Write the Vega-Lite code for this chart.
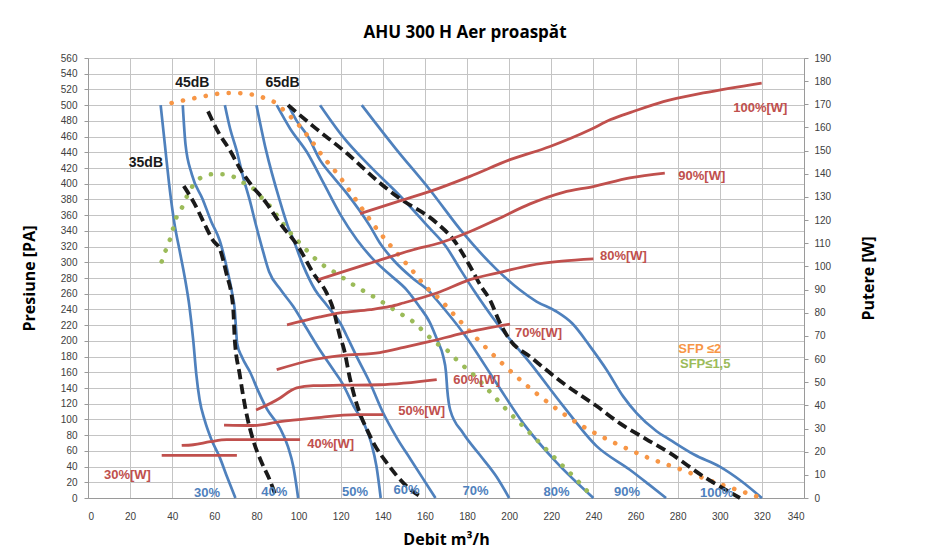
{
  "$schema": "https://vega.github.io/schema/vega-lite/v6.json",
  "width": 716,
  "height": 440,
  "autosize": {"type": "none"},
  "padding": {"left": 88, "top": 58, "right": 125, "bottom": 59},
  "background": "white",
  "title": {"text": "AHU 300 H Aer proaspăt", "font": "Open Sans", "fontSize": 17, "fontWeight": "bold", "color": "#000000", "dx": 19, "offset": 11, "anchor": "middle"},
  "config": {
    "view": {"stroke": null},
    "axis": {"gridColor": "#c4c4c4", "gridWidth": 1, "domainColor": "#9a9a9a", "tickColor": "#9a9a9a", "labelColor": "#404040", "labelFont": "Liberation Sans", "labelFontSize": 10, "titleFont": "Open Sans", "titleFontWeight": "bold", "titleFontSize": 16, "titleColor": "#000000"}
  },
  "datasets": {
    "fan": [
      {"s":"30%","x":34.5,"P":500},{"s":"30%","x":36.5,"P":450},{"s":"30%","x":38.5,"P":400},{"s":"30%","x":41,"P":350},{"s":"30%","x":43.5,"P":315},{"s":"30%","x":46,"P":280},{"s":"30%","x":48.2,"P":243},{"s":"30%","x":50,"P":200},{"s":"30%","x":51.4,"P":158},{"s":"30%","x":53,"P":125},{"s":"30%","x":55.4,"P":99},{"s":"30%","x":58.5,"P":75},{"s":"30%","x":62.5,"P":52},{"s":"30%","x":66.3,"P":25},{"s":"30%","x":70,"P":0},
      {"s":"40%","x":45,"P":500},{"s":"40%","x":46.3,"P":450},{"s":"40%","x":49.3,"P":412},{"s":"40%","x":54.5,"P":380},{"s":"40%","x":58.5,"P":352},{"s":"40%","x":62.5,"P":328},{"s":"40%","x":66,"P":292},{"s":"40%","x":68.5,"P":260},{"s":"40%","x":69.7,"P":239},{"s":"40%","x":70.3,"P":215},{"s":"40%","x":70.8,"P":197},{"s":"40%","x":73,"P":180},{"s":"40%","x":77,"P":160},{"s":"40%","x":81,"P":135},{"s":"40%","x":85,"P":113},{"s":"40%","x":91,"P":90},{"s":"40%","x":95,"P":65},{"s":"40%","x":97.5,"P":40},{"s":"40%","x":99.8,"P":0},
      {"s":"50%","x":65,"P":500},{"s":"50%","x":67.5,"P":470},{"s":"50%","x":70.5,"P":443},{"s":"50%","x":73.5,"P":410},{"s":"50%","x":76.8,"P":379},{"s":"50%","x":79.5,"P":350},{"s":"50%","x":82.5,"P":320},{"s":"50%","x":86,"P":288},{"s":"50%","x":91.5,"P":265},{"s":"50%","x":97.4,"P":244},{"s":"50%","x":104,"P":215},{"s":"50%","x":110.2,"P":188},{"s":"50%","x":116,"P":165},{"s":"50%","x":121,"P":145},{"s":"50%","x":126.5,"P":115},{"s":"50%","x":131,"P":95},{"s":"50%","x":134.5,"P":70},{"s":"50%","x":137,"P":40},{"s":"50%","x":139,"P":0},
      {"s":"60%","x":80,"P":500},{"s":"60%","x":84.5,"P":443},{"s":"60%","x":91,"P":379},{"s":"60%","x":95,"P":345},{"s":"60%","x":97.5,"P":329},{"s":"60%","x":102,"P":297},{"s":"60%","x":107.8,"P":265},{"s":"60%","x":113.5,"P":245},{"s":"60%","x":119.7,"P":223},{"s":"60%","x":124,"P":200},{"s":"60%","x":127.6,"P":180},{"s":"60%","x":134,"P":146},{"s":"60%","x":139.5,"P":112},{"s":"60%","x":147,"P":75},{"s":"60%","x":153,"P":50},{"s":"60%","x":159,"P":25},{"s":"60%","x":165,"P":0},
      {"s":"70%","x":89.6,"P":500},{"s":"70%","x":96,"P":470},{"s":"70%","x":104,"P":440},{"s":"70%","x":112,"P":400},{"s":"70%","x":120,"P":360},{"s":"70%","x":127.6,"P":329},{"s":"70%","x":135,"P":305},{"s":"70%","x":143,"P":285},{"s":"70%","x":151.3,"P":265},{"s":"70%","x":157,"P":245},{"s":"70%","x":162.4,"P":223},{"s":"70%","x":166,"P":200},{"s":"70%","x":168.7,"P":180},{"s":"70%","x":170,"P":160},{"s":"70%","x":170.6,"P":138},{"s":"70%","x":172,"P":112},{"s":"70%","x":178,"P":83},{"s":"70%","x":186,"P":55},{"s":"70%","x":194,"P":27},{"s":"70%","x":200,"P":0},
      {"s":"80%","x":95.1,"P":500},{"s":"80%","x":99.1,"P":480},{"s":"80%","x":104.5,"P":460},{"s":"80%","x":110.2,"P":430},{"s":"80%","x":116,"P":410},{"s":"80%","x":122.8,"P":388},{"s":"80%","x":133.9,"P":346},{"s":"80%","x":138.6,"P":324.5},{"s":"80%","x":146,"P":300},{"s":"80%","x":154,"P":280},{"s":"80%","x":162.4,"P":262},{"s":"80%","x":165.6,"P":252},{"s":"80%","x":178.2,"P":210},{"s":"80%","x":194,"P":146},{"s":"80%","x":206.7,"P":95},{"s":"80%","x":222.6,"P":45},{"s":"80%","x":240,"P":0},
      {"s":"90%","x":110.2,"P":500},{"s":"90%","x":121,"P":460},{"s":"90%","x":134,"P":422},{"s":"90%","x":148,"P":385},{"s":"90%","x":162,"P":344},{"s":"90%","x":170,"P":320},{"s":"90%","x":177,"P":290},{"s":"90%","x":183,"P":265},{"s":"90%","x":194,"P":223},{"s":"90%","x":209.9,"P":172},{"s":"90%","x":225.7,"P":117},{"s":"90%","x":241.5,"P":66},{"s":"90%","x":257.3,"P":36},{"s":"90%","x":266,"P":18},{"s":"90%","x":274.5,"P":0},
      {"s":"100%","x":130,"P":500},{"s":"100%","x":146,"P":445},{"s":"100%","x":162.4,"P":392},{"s":"100%","x":178.2,"P":337},{"s":"100%","x":194,"P":291},{"s":"100%","x":205,"P":265},{"s":"100%","x":213,"P":250},{"s":"100%","x":222,"P":238},{"s":"100%","x":230,"P":222},{"s":"100%","x":238.4,"P":193},{"s":"100%","x":246.3,"P":163},{"s":"100%","x":254.2,"P":129},{"s":"100%","x":260.5,"P":108},{"s":"100%","x":270,"P":85},{"s":"100%","x":276.4,"P":74},{"s":"100%","x":288,"P":55},{"s":"100%","x":300,"P":40},{"s":"100%","x":310,"P":22},{"s":"100%","x":320,"P":0}
    ],
    "db": [
      {"s":"35dB","x":45.5,"P":397},{"s":"35dB","x":50.5,"P":375},{"s":"35dB","x":56,"P":345},{"s":"35dB","x":59.3,"P":328},{"s":"35dB","x":62.7,"P":316},{"s":"35dB","x":65.7,"P":286},{"s":"35dB","x":68.9,"P":243},{"s":"35dB","x":69.7,"P":201},{"s":"35dB","x":72,"P":158},{"s":"35dB","x":75.2,"P":108},{"s":"35dB","x":78.4,"P":74},{"s":"35dB","x":82,"P":48},{"s":"35dB","x":86.3,"P":23},{"s":"35dB","x":89.5,"P":0},
      {"s":"45dB","x":57,"P":492},{"s":"45dB","x":62,"P":465},{"s":"45dB","x":67.3,"P":443},{"s":"45dB","x":72,"P":420},{"s":"45dB","x":76.8,"P":401},{"s":"45dB","x":84.8,"P":375},{"s":"45dB","x":91.1,"P":350},{"s":"45dB","x":99.8,"P":320},{"s":"45dB","x":107,"P":286},{"s":"45dB","x":113.3,"P":261},{"s":"45dB","x":116.5,"P":240},{"s":"45dB","x":119.7,"P":205},{"s":"45dB","x":121.5,"P":190},{"s":"45dB","x":124.4,"P":152},{"s":"45dB","x":127,"P":125},{"s":"45dB","x":129.5,"P":105},{"s":"45dB","x":132.5,"P":87},{"s":"45dB","x":136,"P":68},{"s":"45dB","x":141.8,"P":45},{"s":"45dB","x":151.3,"P":15},{"s":"45dB","x":159,"P":0},
      {"s":"65dB","x":95,"P":500},{"s":"65dB","x":107,"P":473},{"s":"65dB","x":122.8,"P":439},{"s":"65dB","x":138.6,"P":401},{"s":"65dB","x":146.6,"P":384},{"s":"65dB","x":165.6,"P":350},{"s":"65dB","x":173.5,"P":329},{"s":"65dB","x":181.4,"P":295},{"s":"65dB","x":186.5,"P":270},{"s":"65dB","x":190.9,"P":252},{"s":"65dB","x":195.6,"P":223},{"s":"65dB","x":200.4,"P":201},{"s":"65dB","x":209.9,"P":180},{"s":"65dB","x":225.7,"P":146},{"s":"65dB","x":241.5,"P":117},{"s":"65dB","x":252.6,"P":95},{"s":"65dB","x":265,"P":75},{"s":"65dB","x":276.4,"P":57},{"s":"65dB","x":292.2,"P":27.5},{"s":"65dB","x":309.6,"P":0}
    ],
    "sfp": [
      {"s":"SFP2","x":39.7,"P":502.7},{"s":"SFP2","x":45.3,"P":506},{"s":"SFP2","x":50.8,"P":509},{"s":"SFP2","x":56.4,"P":512},{"s":"SFP2","x":61.9,"P":514.6},{"s":"SFP2","x":67.4,"P":515.5},{"s":"SFP2","x":73.5,"P":515},{"s":"SFP2","x":78.8,"P":513},{"s":"SFP2","x":84.8,"P":508},{"s":"SFP2","x":89.6,"P":502},{"s":"SFP2","x":93.5,"P":492},{"s":"SFP2","x":100,"P":475},{"s":"SFP2","x":106,"P":455},{"s":"SFP2","x":112,"P":433},{"s":"SFP2","x":118.9,"P":411},{"s":"SFP2","x":125,"P":388},{"s":"SFP2","x":131,"P":365},{"s":"SFP2","x":137,"P":343},{"s":"SFP2","x":142.6,"P":324.5},{"s":"SFP2","x":146.6,"P":312},{"s":"SFP2","x":154.5,"P":288},{"s":"SFP2","x":160,"P":270},{"s":"SFP2","x":166.3,"P":255},{"s":"SFP2","x":176,"P":227},{"s":"SFP2","x":186.1,"P":199},{"s":"SFP2","x":196,"P":173},{"s":"SFP2","x":206.7,"P":147},{"s":"SFP2","x":220.2,"P":118},{"s":"SFP2","x":234.4,"P":92},{"s":"SFP2","x":249.4,"P":71},{"s":"SFP2","x":265.3,"P":52},{"s":"SFP2","x":281.9,"P":36},{"s":"SFP2","x":297.7,"P":20},{"s":"SFP2","x":314.3,"P":5},{"s":"SFP2","x":320,"P":0},
      {"s":"SFP15","x":35,"P":301},{"s":"SFP15","x":37,"P":316},{"s":"SFP15","x":38.9,"P":329},{"s":"SFP15","x":42.1,"P":358},{"s":"SFP15","x":45.3,"P":373},{"s":"SFP15","x":47.6,"P":388},{"s":"SFP15","x":50.5,"P":400},{"s":"SFP15","x":53.2,"P":407},{"s":"SFP15","x":58.7,"P":412},{"s":"SFP15","x":64.2,"P":412},{"s":"SFP15","x":69.8,"P":408},{"s":"SFP15","x":74.5,"P":400},{"s":"SFP15","x":79.3,"P":392},{"s":"SFP15","x":83.2,"P":380},{"s":"SFP15","x":87.2,"P":369},{"s":"SFP15","x":90.4,"P":357},{"s":"SFP15","x":93.5,"P":346},{"s":"SFP15","x":97.5,"P":333},{"s":"SFP15","x":101.5,"P":322},{"s":"SFP15","x":105.4,"P":311},{"s":"SFP15","x":109.8,"P":300},{"s":"SFP15","x":117.3,"P":287},{"s":"SFP15","x":126.8,"P":270},{"s":"SFP15","x":137,"P":254},{"s":"SFP15","x":146.6,"P":237.5},{"s":"SFP15","x":156.1,"P":220.6},{"s":"SFP15","x":160,"P":210},{"s":"SFP15","x":165.6,"P":197},{"s":"SFP15","x":171.1,"P":186.6},{"s":"SFP15","x":175,"P":176},{"s":"SFP15","x":183.8,"P":155},{"s":"SFP15","x":191.7,"P":132.7},{"s":"SFP15","x":199.6,"P":110},{"s":"SFP15","x":207.5,"P":89},{"s":"SFP15","x":215.4,"P":67.8},{"s":"SFP15","x":223.3,"P":46.6},{"s":"SFP15","x":232,"P":23.3},{"s":"SFP15","x":240,"P":0}
    ],
    "pw": [
      {"s":"30","x":35,"W":18.4},{"s":"30","x":70.7,"W":18.4},
      {"s":"40","x":44.5,"W":22.7},{"s":"40","x":50,"W":23},{"s":"40","x":58,"W":24.3},{"s":"40","x":65.9,"W":25.2},{"s":"40","x":78.5,"W":25.2},{"s":"40","x":100.7,"W":25.2},
      {"s":"50","x":64.6,"W":31.5},{"s":"50","x":78.5,"W":31.3},{"s":"50","x":91.2,"W":33},{"s":"50","x":107,"W":34.5},{"s":"50","x":127.6,"W":36},{"s":"50","x":140.2,"W":36},
      {"s":"60","x":79.8,"W":38},{"s":"60","x":91.2,"W":43.2},{"s":"60","x":96,"W":46.2},{"s":"60","x":99.1,"W":47.6},{"s":"60","x":107,"W":48.5},{"s":"60","x":120,"W":48.7},{"s":"60","x":138.6,"W":48.9},{"s":"60","x":165.6,"W":51.1},
      {"s":"70","x":89.6,"W":55.4},{"s":"70","x":107,"W":59.7},{"s":"70","x":120,"W":61.5},{"s":"70","x":138.6,"W":62.8},{"s":"70","x":150,"W":65},{"s":"70","x":162.4,"W":67.6},{"s":"70","x":178.2,"W":71.2},{"s":"70","x":200.4,"W":75.1},
      {"s":"80","x":94.5,"W":74.8},{"s":"80","x":110.2,"W":78.2},{"s":"80","x":119.7,"W":79.9},{"s":"80","x":133.9,"W":81.3},{"s":"80","x":143.4,"W":82.7},{"s":"80","x":149.7,"W":84.2},{"s":"80","x":165.6,"W":88.5},{"s":"80","x":181.4,"W":94.3},{"s":"80","x":197.2,"W":97.8},{"s":"80","x":210,"W":100.5},{"s":"80","x":225,"W":102.3},{"s":"80","x":240,"W":103.3},
      {"s":"90","x":109.4,"W":94.3},{"s":"90","x":122,"W":98},{"s":"90","x":135,"W":101.7},{"s":"90","x":154.5,"W":107.2},{"s":"90","x":167,"W":110.1},{"s":"90","x":179.8,"W":114.4},{"s":"90","x":194,"W":120.2},{"s":"90","x":209.9,"W":127},{"s":"90","x":225.7,"W":132},{"s":"90","x":239.9,"W":134.5},{"s":"90","x":257.3,"W":138.2},{"s":"90","x":273.9,"W":140.3},
      {"s":"100","x":129.2,"W":122.8},{"s":"100","x":147,"W":128},{"s":"100","x":162.4,"W":132.4},{"s":"100","x":181.4,"W":138.9},{"s":"100","x":200.4,"W":146.1},{"s":"100","x":219.4,"W":151.8},{"s":"100","x":238.4,"W":159},{"s":"100","x":247.9,"W":163.3},{"s":"100","x":258.9,"W":166.9},{"s":"100","x":273.2,"W":171.2},{"s":"100","x":292.2,"W":174.9},{"s":"100","x":319.9,"W":179.2}
    ],
    "fanLabels": [
      {"t":"30%","x":56.5,"P":7},{"t":"40%","x":88.5,"P":8},{"t":"50%","x":126.8,"P":8},{"t":"60%","x":151.3,"P":10},{"t":"70%","x":184,"P":9},{"t":"80%","x":222.5,"P":8},{"t":"90%","x":256,"P":8},{"t":"100%","x":298.5,"P":7}
    ],
    "dbLabels": [
      {"t":"35dB","x":27.5,"P":427},{"t":"45dB","x":49.5,"P":528},{"t":"65dB","x":92.4,"P":528}
    ],
    "sfpLabels": [
      {"t":"SFP ≤2","s":"SFP2","x":280.3,"P":190},{"t":"SFP≤1,5","s":"SFP15","x":281.1,"P":170.5}
    ],
    "pwLabels": [
      {"t":"30%[W]","x":7.6,"W":10.1},{"t":"40%[W]","x":104.1,"W":23.4},{"t":"50%[W]","x":147.3,"W":37.4},{"t":"60%[W]","x":173.5,"W":51.1},{"t":"70%[W]","x":202.8,"W":71.2},{"t":"80%[W]","x":243.1,"W":104.3},{"t":"90%[W]","x":280.3,"W":139.2},{"t":"100%[W]","x":306.4,"W":168.4}
    ]
  },
  "layer": [
    {
      "encoding": {
        "x": {"field": "x", "type": "quantitative", "scale": {"domain": [0, 340], "nice": false, "zero": false}, "axis": {"title": "Debit m³/h", "values": [0,20,40,60,80,100,120,140,160,180,200,220,240,260,280,300,320,340], "grid": true, "ticks": false, "labelPadding": 13, "titlePadding": 10}},
        "y": {"field": "P", "type": "quantitative", "scale": {"domain": [0, 560], "nice": false}, "axis": {"title": "Presiune [PA]", "orient": "left", "values": [0,20,40,60,80,100,120,140,160,180,200,220,240,260,280,300,320,340,360,380,400,420,440,460,480,500,520,540,560], "grid": true, "tickSize": 4, "labelPadding": 7, "titlePadding": 23}}
      },
      "layer": [
        {"data": {"name": "fan"}, "mark": {"type": "line", "color": "#4f81bd", "strokeWidth": 2.7, "interpolate": "monotone"}, "encoding": {"detail": {"field": "s"}}},
        {"data": {"name": "sfp"}, "transform": [{"filter": "datum.s == 'SFP15'"}], "mark": {"type": "line", "color": "#9bbb59", "strokeWidth": 4.6, "strokeCap": "round", "strokeDash": [0.1, 11.5], "interpolate": "monotone"}, "encoding": {"detail": {"field": "s"}}},
        {"data": {"name": "sfp"}, "transform": [{"filter": "datum.s == 'SFP2'"}], "mark": {"type": "line", "color": "#f79646", "strokeWidth": 4.6, "strokeCap": "round", "strokeDash": [0.1, 11.5], "interpolate": "monotone"}, "encoding": {"detail": {"field": "s"}}},
        {"data": {"name": "db"}, "mark": {"type": "line", "color": "#1a1a1a", "strokeWidth": 3.8, "strokeDash": [10, 5], "interpolate": "monotone"}, "encoding": {"detail": {"field": "s"}}},
        {"data": {"name": "fanLabels"}, "mark": {"type": "text", "color": "#4f81bd", "font": "Liberation Sans", "fontSize": 13, "fontWeight": "bold", "align": "center", "baseline": "middle"}, "encoding": {"text": {"field": "t"}}},
        {"data": {"name": "dbLabels"}, "mark": {"type": "text", "color": "#1a1a1a", "font": "Liberation Sans", "fontSize": 14, "fontWeight": "bold", "align": "center", "baseline": "middle"}, "encoding": {"text": {"field": "t"}}},
        {"data": {"name": "sfpLabels"}, "transform": [{"filter": "datum.s == 'SFP2'"}], "mark": {"type": "text", "color": "#f79646", "font": "Liberation Sans", "fontSize": 13, "fontWeight": "bold", "align": "left", "baseline": "middle"}, "encoding": {"text": {"field": "t"}}},
        {"data": {"name": "sfpLabels"}, "transform": [{"filter": "datum.s == 'SFP15'"}], "mark": {"type": "text", "color": "#9bbb59", "font": "Liberation Sans", "fontSize": 13, "fontWeight": "bold", "align": "left", "baseline": "middle"}, "encoding": {"text": {"field": "t"}}}
      ]
    },
    {
      "encoding": {
        "x": {"field": "x", "type": "quantitative", "scale": {"domain": [0, 340], "nice": false, "zero": false}, "axis": {"title": "Debit m³/h", "values": [0,20,40,60,80,100,120,140,160,180,200,220,240,260,280,300,320,340], "grid": true, "ticks": false, "labelPadding": 13, "titlePadding": 10}},
        "y": {"field": "W", "type": "quantitative", "scale": {"domain": [0, 190], "nice": false}, "axis": {"title": "Putere [W]", "orient": "right", "titleAngle": 270, "values": [0,10,20,30,40,50,60,70,80,90,100,110,120,130,140,150,160,170,180,190], "grid": false, "tickSize": 4, "labelPadding": 6, "titlePadding": 46}}
      },
      "layer": [
        {"data": {"name": "pw"}, "mark": {"type": "line", "color": "#c0504d", "strokeWidth": 2.8, "interpolate": "monotone"}, "encoding": {"detail": {"field": "s"}}},
        {"data": {"name": "pwLabels"}, "mark": {"type": "text", "color": "#c0504d", "font": "Liberation Sans", "fontSize": 13, "fontWeight": "bold", "align": "left", "baseline": "middle"}, "encoding": {"text": {"field": "t"}}}
      ]
    }
  ],
  "resolve": {"scale": {"y": "independent"}}
}
